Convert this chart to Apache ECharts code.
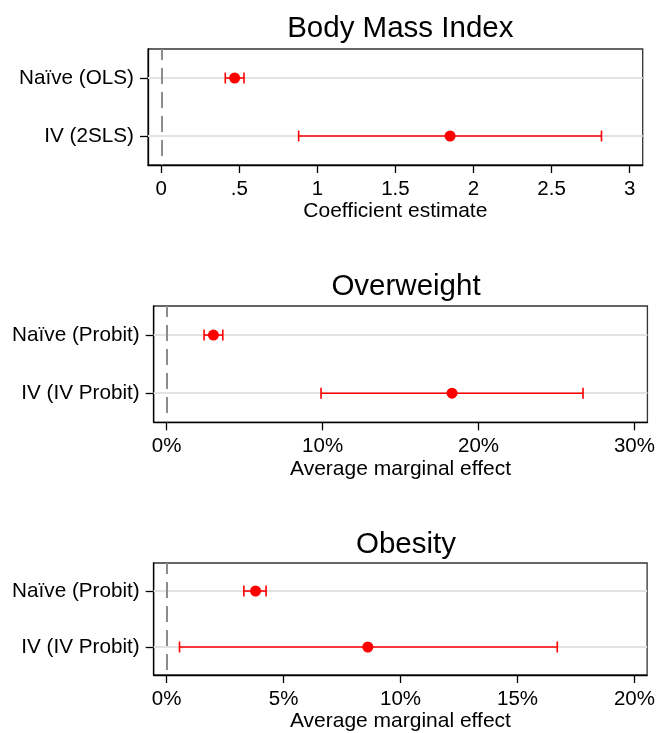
<!DOCTYPE html>
<html>
<head>
<meta charset="utf-8">
<script src="https://cdn.jsdelivr.net/npm/echarts@6/dist/echarts.min.js"></script>
<style>html,body{margin:0;padding:0;background:#fff;}#c{width:658px;height:733px;}</style>
</head>
<body>
<div id="c"></div>
<script>
// ---- Data ----
var titles = ['Body Mass Index', 'Overweight', 'Obesity'];
var axisNames = ['Coefficient estimate', 'Average marginal effect', 'Average marginal effect'];

var cats1 = ['Naïve (OLS)', 'IV (2SLS)'];
var est1 = [0.47, 1.85];
var lo1 = [0.41, 0.88];
var hi1 = [0.53, 2.82];

var cats2 = ['Naïve (Probit)', 'IV (IV Probit)'];
var est2 = [3.0, 18.3];
var lo2 = [2.4, 9.9];
var hi2 = [3.6, 26.7];

var cats3 = ['Naïve (Probit)', 'IV (IV Probit)'];
var est3 = [3.8, 8.6];
var lo3 = [3.3, 0.55];
var hi3 = [4.25, 16.7];

var ticks1 = [0, 0.5, 1, 1.5, 2, 2.5, 3];
var tickLabels1 = ['0', '.5', '1', '1.5', '2', '2.5', '3'];
var ticks2 = [0, 10, 20, 30];
var tickLabels2 = ['0%', '10%', '20%', '30%'];
var ticks3 = [0, 5, 10, 15, 20];
var tickLabels3 = ['0%', '5%', '10%', '15%', '20%'];

// ---- Layout ----
var FONT = "'Liberation Sans', Arial, Helvetica, sans-serif";
var panels = [
  {cats: cats1, est: est1, lo: lo1, hi: hi1, ticks: ticks1, labels: tickLabels1, min: -0.085, max: 3.084,
   grid: {left: 148, top: 49, right: 15.3, height: 116}, titleX: 395.3, titleY: 9},
  {cats: cats2, est: est2, lo: lo2, hi: hi2, ticks: ticks2, labels: tickLabels2, min: -0.83, max: 30.83,
   grid: {left: 153.7, top: 306, right: 9.7, height: 116.3}, titleX: 401, titleY: 267},
  {cats: cats3, est: est3, lo: lo3, hi: hi3, ticks: ticks3, labels: tickLabels3, min: -0.554, max: 20.54,
   grid: {left: 153.7, top: 563, right: 9.7, height: 116.3}, titleX: 401, titleY: 525}
];

var option = {
  animation: false,
  backgroundColor: '#fff',
  textStyle: {fontFamily: FONT},
  title: [], grid: [], xAxis: [], yAxis: [], series: []
};

panels.forEach(function (p, i) {
  option.title.push({
    text: titles[i], left: p.titleX, top: p.titleY, textAlign: 'center',
    textStyle: {fontFamily: FONT, fontSize: 29.5, fontWeight: 'normal', color: '#000'}
  });
  option.grid.push({
    left: p.grid.left, top: p.grid.top, right: p.grid.right, height: p.grid.height,
    show: true, borderColor: '#333', borderWidth: 1.3, backgroundColor: '#fff', containLabel: false
  });
  (function (ticks, labels) {
    option.xAxis.push({
      type: 'value', gridIndex: i, min: p.min, max: p.max,
      name: axisNames[i], nameLocation: 'middle', nameGap: 36,
      nameTextStyle: {fontFamily: FONT, fontSize: 21, color: '#000'},
      axisLine: {show: true, onZero: false, lineStyle: {color: '#000', width: 1.3}},
      axisTick: {show: true, length: 8, customValues: ticks, lineStyle: {color: '#000', width: 1.3}},
      axisLabel: {show: true, customValues: ticks, margin: 14, fontFamily: FONT, fontSize: 20.5, color: '#000',
        formatter: function (v) {
          for (var k = 0; k < ticks.length; k++) { if (Math.abs(ticks[k] - v) < 1e-9) return labels[k]; }
          return '';
        }},
      splitLine: {show: false}
    });
  })(p.ticks, p.labels);
  option.yAxis.push({
    type: 'category', gridIndex: i, data: p.cats, inverse: true, boundaryGap: true,
    axisLine: {show: true, onZero: false, lineStyle: {color: '#000', width: 1.3}},
    axisTick: {show: true, alignWithLabel: true, length: 8, lineStyle: {color: '#000', width: 1.3}},
    axisLabel: {margin: 14, fontFamily: FONT, fontSize: 20.7, color: '#000'},
    splitLine: {show: false}
  });
  // gridlines and zero reference line
  option.series.push({
    type: 'scatter', xAxisIndex: i, yAxisIndex: i, data: [], z: 1, silent: true,
    markLine: {
      silent: true, symbol: 'none', label: {show: false}, animation: false, z: 1,
      data: p.cats.map(function (c) {
        return {yAxis: c, lineStyle: {color: '#e3e3e3', width: 2, type: 'solid'}};
      }).concat([{xAxis: 0, lineStyle: {color: '#8c8c8c', width: 2, type: [16, 8], dashOffset: 5}}])
    }
  });
  // error bars
  var ebData = p.cats.map(function (c, k) { return [p.lo[k], p.hi[k], k]; });
  option.series.push({
    type: 'custom', xAxisIndex: i, yAxisIndex: i, z: 3, silent: true,
    encode: {x: [0, 1], y: 2},
    data: ebData,
    renderItem: function (params, api) {
      var a = api.coord([api.value(0), api.value(2)]);
      var b = api.coord([api.value(1), api.value(2)]);
      var h = 5.5;
      var st = {stroke: '#ff0000', lineWidth: 1.6, fill: null};
      return {type: 'group', children: [
        {type: 'line', shape: {x1: a[0], y1: a[1], x2: b[0], y2: b[1]}, style: st},
        {type: 'line', shape: {x1: a[0], y1: a[1] - h, x2: a[0], y2: a[1] + h}, style: st},
        {type: 'line', shape: {x1: b[0], y1: b[1] - h, x2: b[0], y2: b[1] + h}, style: st}
      ]};
    }
  });
  // point estimates
  option.series.push({
    type: 'scatter', xAxisIndex: i, yAxisIndex: i, z: 4, silent: true,
    symbol: 'circle', symbolSize: 11, itemStyle: {color: '#ff0000', opacity: 1},
    data: p.cats.map(function (c, k) { return [p.est[k], c]; })
  });
});

var chart = echarts.init(document.getElementById('c'), null, {renderer: 'canvas'});
chart.setOption(option);
</script>
</body>
</html>
